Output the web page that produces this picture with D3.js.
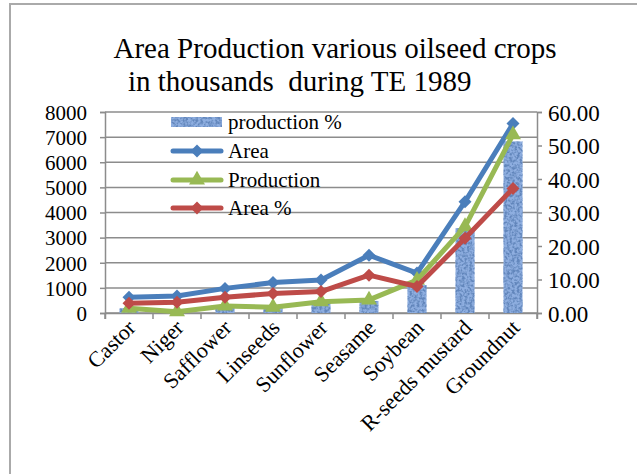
<!DOCTYPE html>
<html>
<head>
<meta charset="utf-8">
<script src="https://cdnjs.cloudflare.com/ajax/libs/d3/7.8.5/d3.min.js"></script>
<style>
  body { margin: 0; background: #fff; }
  svg text { font-family: "Liberation Serif", "Times New Roman", serif; fill: #000; }
</style>
</head>
<body>
<div id="chart"></div>
<script>
// Data
var crops = ["Castor", "Niger", "Safflower", "Linseeds", "Sunflower", "Seasame", "Soybean", "R-seeds mustard", "Groundnut"];
var area = [630, 680, 980, 1210, 1310, 2300, 1590, 4430, 7540];          // thousands, left axis
var production = [190, 50, 280, 230, 450, 520, 1310, 3440, 7100];        // thousands, left axis
var areaPct = [2.9, 3.2, 4.7, 5.8, 6.4, 11.3, 7.9, 22.3, 37.2];         // right axis
var productionPct = [1.4, 0.4, 2.1, 1.7, 3.2, 3.6, 8.3, 25.3, 51.2];    // right axis (bars)
var leftTicks = [0, 1000, 2000, 3000, 4000, 5000, 6000, 7000, 8000];
var rightTicks = [0, 10, 20, 30, 40, 50, 60];

var width = 637, height = 474;
var plot = {left: 105, right: 537, top: 112, bottom: 313};
var serif = '"Liberation Serif", "Times New Roman", serif';

var svg = d3.select('#chart').append('svg')
    .attr('width', width)
    .attr('height', height);

// Textured fill for the bars
var defs = svg.append('defs');
var filt = defs.append('filter').attr('id', 'speckle')
    .attr('x', '-10%').attr('y', '0%').attr('width', '120%').attr('height', '100%');
filt.append('feTurbulence')
    .attr('type', 'fractalNoise')
    .attr('baseFrequency', 0.4)
    .attr('numOctaves', 2)
    .attr('seed', 3)
    .attr('result', 'noise');
filt.append('feColorMatrix')
    .attr('in', 'noise')
    .attr('type', 'matrix')
    .attr('values', '0 0 0 0 0.12  0 0 0 0 0.24  0 0 0 0 0.50  -3.2 0 0 0 2.0')
    .attr('result', 'spots');
filt.append('feComposite')
    .attr('in', 'spots').attr('in2', 'SourceGraphic').attr('operator', 'in')
    .attr('result', 'spotsIn');
filt.append('feMerge').call(function(m){
    m.append('feMergeNode').attr('in', 'SourceGraphic');
    m.append('feMergeNode').attr('in', 'spotsIn');
});

// Chart border (only top and left visible)
svg.append('line').attr('x1', 9).attr('x2', width).attr('y1', 4).attr('y2', 4)
    .attr('stroke', '#aaa').attr('stroke-width', 2);
svg.append('line').attr('x1', 10).attr('x2', 10).attr('y1', 4).attr('y2', height)
    .attr('stroke', '#aaa').attr('stroke-width', 2);

// Title
svg.append('text').attr('x', 335).attr('y', 58).attr('text-anchor', 'middle')
    .attr('font-family', serif).attr('font-size', 29)
    .text('Area Production various oilseed crops');
svg.append('text').attr('x', 128).attr('y', 91).attr('text-anchor', 'start')
    .attr('font-family', serif).attr('font-size', 29)
    .text('in thousands\u00a0 during TE 1989');

// Scales
var x = d3.scaleBand().domain(crops).range([plot.left, plot.right]);
var yL = d3.scaleLinear().domain([0, 8000]).range([plot.bottom, plot.top]);
var yR = d3.scaleLinear().domain([0, 60]).range([plot.bottom, plot.top]);

// Gridlines
svg.append('g').selectAll('line').data(leftTicks).enter().append('line')
    .attr('x1', plot.left).attr('x2', plot.right)
    .attr('y1', function(d){ return yL(d); }).attr('y2', function(d){ return yL(d); })
    .attr('stroke', '#8c8c8c').attr('stroke-width', 1.5);

// Axes
var leftAxis = svg.append('g').attr('transform', 'translate(' + plot.left + ',0)')
    .call(d3.axisLeft(yL).tickValues(leftTicks).tickSize(5).tickPadding(13).tickFormat(d3.format('d')));
var rightAxis = svg.append('g').attr('transform', 'translate(' + plot.right + ',0)')
    .call(d3.axisRight(yR).tickValues(rightTicks).tickSize(5).tickPadding(6).tickFormat(d3.format('.2f')));
var bottomAxis = svg.append('g').attr('transform', 'translate(0,' + plot.bottom + ')')
    .call(d3.axisBottom(x).tickSize(6).tickFormat(''));
// band axis ticks sit at centers; move them to band edges
bottomAxis.selectAll('.tick').remove();
bottomAxis.selectAll('line.edge').data(d3.range(crops.length + 1)).enter().append('line')
    .attr('class', 'edge')
    .attr('x1', function(i){ return plot.left + i * x.step(); })
    .attr('x2', function(i){ return plot.left + i * x.step(); })
    .attr('y1', 0).attr('y2', 6)
    .attr('stroke', '#8c8c8c').attr('stroke-width', 1.5);

[leftAxis, rightAxis, bottomAxis].forEach(function(a){
    a.attr('font-family', serif).attr('font-size', 21);
    a.select('.domain').attr('stroke', '#8c8c8c').attr('stroke-width', 1.5);
    a.selectAll('.tick line').attr('stroke', '#8c8c8c').attr('stroke-width', 1.5);
    a.selectAll('.tick text').attr('fill', '#000').attr('dy', '0.35em');
});
rightAxis.attr('font-size', 23);

// Category labels
svg.append('g').selectAll('text').data(crops).enter().append('text')
    .attr('text-anchor', 'end')
    .attr('font-family', serif).attr('font-size', 22)
    .attr('transform', function(d){
        return 'translate(' + (x(d) + x.bandwidth() / 2 + 8) + ',' + (plot.bottom + 16) + ') rotate(-45)';
    })
    .text(function(d){ return d; });

// Bars (production %)
var barW = 19;
svg.append('g').selectAll('rect').data(productionPct).enter().append('rect')
    .attr('x', function(d, i){ return x(crops[i]) + x.bandwidth() / 2 - barW / 2; })
    .attr('y', function(d){ return yR(d); })
    .attr('width', barW)
    .attr('height', function(d){ return plot.bottom - yR(d); })
    .attr('fill', '#8eaee0')
    .attr('filter', 'url(#speckle)');

// Lines
var series = [
    {name: 'Area', values: area, scale: yL, color: '#4a7ebb', marker: 'diamond'},
    {name: 'Production', values: production, scale: yL, color: '#98b954', marker: 'triangle'},
    {name: 'Area %', values: areaPct, scale: yR, color: '#be4b48', marker: 'diamond'}
];

function markerPath(type){
    if (type === 'triangle') return d3.symbol().type(d3.symbolTriangle).size(110)();
    return 'M0,-6.5L6.5,0L0,6.5L-6.5,0Z';
}

series.forEach(function(s){
    var line = d3.line()
        .x(function(d, i){ return x(crops[i]) + x.bandwidth() / 2; })
        .y(function(d){ return s.scale(d); });
    svg.append('path').datum(s.values)
        .attr('d', line)
        .attr('fill', 'none')
        .attr('stroke', s.color)
        .attr('stroke-width', 5)
        .attr('stroke-linejoin', 'round');
    svg.append('g').selectAll('path').data(s.values).enter().append('path')
        .attr('d', markerPath(s.marker))
        .attr('transform', function(d, i){
            return 'translate(' + (x(crops[i]) + x.bandwidth() / 2) + ',' + s.scale(d) + ')';
        })
        .attr('fill', s.color);
});

// Legend
var legend = svg.append('g').attr('transform', 'translate(171,0)');
var legendItems = [
    {name: 'production %', type: 'bar', y: 122},
    {name: 'Area', type: 'line', color: '#4a7ebb', marker: 'diamond', y: 151},
    {name: 'Production', type: 'line', color: '#98b954', marker: 'triangle', y: 180},
    {name: 'Area %', type: 'line', color: '#be4b48', marker: 'diamond', y: 208}
];
legendItems.forEach(function(it){
    var g = legend.append('g').attr('transform', 'translate(0,' + it.y + ')');
    if (it.type === 'bar') {
        g.append('rect').attr('x', 0).attr('y', -5).attr('width', 51).attr('height', 10)
            .attr('fill', '#8eaee0').attr('filter', 'url(#speckle)');
    } else {
        g.append('line').attr('x1', 2).attr('x2', 50).attr('y1', 0).attr('y2', 0)
            .attr('stroke', it.color).attr('stroke-width', 5).attr('stroke-linecap', 'round');
        g.append('path').attr('d', markerPath(it.marker)).attr('transform', 'translate(26,0)')
            .attr('fill', it.color);
    }
    g.append('text').attr('x', 57).attr('y', 7)
        .attr('font-family', serif).attr('font-size', 21).text(it.name);
});
</script>
</body>
</html>
